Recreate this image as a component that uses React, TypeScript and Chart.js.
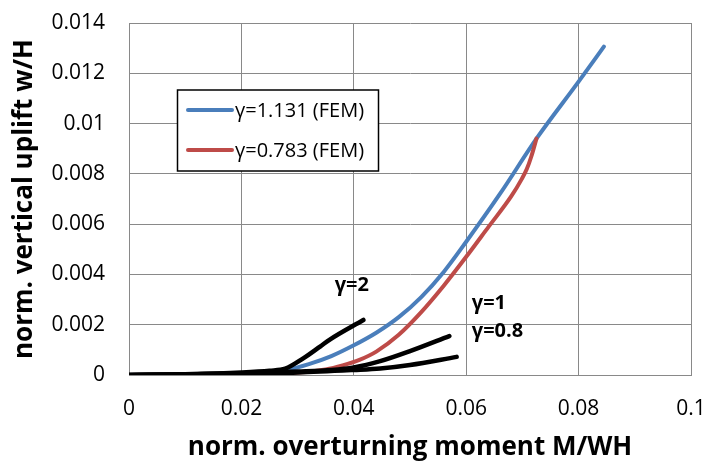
import React, { useEffect, useRef } from 'react';
import { Chart, registerables } from 'chart.js';

Chart.register(...registerables);

// ---- data ----
const xTickLabels = ['0', '0.02', '0.04', '0.06', '0.08', '0.1'];
const yTickLabels = ['0', '0.002', '0.004', '0.006', '0.008', '0.01', '0.012', '0.014'];

const blueLabel = 'γ=1.131 (FEM)';
const blueX = [0, 0.01, 0.02, 0.025, 0.028, 0.032, 0.036, 0.04, 0.044, 0.048, 0.052, 0.056, 0.06, 0.066, 0.0725, 0.08, 0.0845];
const blueY = [0, 0.00002, 0.00006, 0.00012, 0.0002, 0.00043, 0.00075, 0.00118, 0.00168, 0.0023, 0.0031, 0.0041, 0.0053, 0.0072, 0.0094, 0.01167, 0.01306];

const redLabel = 'γ=0.783 (FEM)';
const redX = [0, 0.02, 0.03, 0.035, 0.038, 0.041, 0.044, 0.048, 0.052, 0.056, 0.06, 0.064, 0.068, 0.0699, 0.0708, 0.0716, 0.0725];
const redY = [0, 0.00004, 0.0001, 0.00022, 0.00038, 0.0006, 0.00093, 0.0016, 0.0025, 0.00355, 0.0047, 0.0059, 0.0071, 0.0078, 0.0082, 0.0087, 0.0094];

const g2Label = 'γ=2';
const g2X = [0, 0.01, 0.02, 0.025, 0.0278, 0.031, 0.034, 0.0358, 0.0417];
const g2Y = [0, 0.00003, 0.0001, 0.00017, 0.00025, 0.00066, 0.00113, 0.00142, 0.00219];

const g1Label = 'γ=1';
const g1X = [0, 0.01, 0.02, 0.03, 0.036, 0.04, 0.0447, 0.05, 0.057];
const g1Y = [0, 0.00002, 0.00007, 0.00014, 0.0002, 0.0003, 0.00055, 0.00095, 0.00155];

const g08Label = 'γ=0.8';
const g08X = [0, 0.01, 0.02, 0.03, 0.04, 0.0447, 0.05, 0.0583];
const g08Y = [0, 0.00002, 0.00006, 0.0001, 0.0002, 0.00026, 0.0004, 0.00072];

// annotation anchors (data coordinates of the left/middle of each text)
const annotationTexts = [g2Label, g1Label, g08Label];
const annotationX = [0.0366, 0.061, 0.061];
const annotationY = [0.00357, 0.00287, 0.00173];

const FONT = "'Open Sans', sans-serif";
const GRID = '#898989';
const BLUE = '#4A7EBB';
const RED = '#BE4B48';

const pts = (xs: number[], ys: number[]) => xs.map((x, i) => ({ x, y: ys[i] }));

const overlayPlugin = {
  id: 'overlay',
  afterDatasetsDraw(chart: any) {
    const { ctx, scales } = chart;
    const xs = scales.x;
    const ys = scales.y;
    ctx.save();
    // gamma annotations
    ctx.fillStyle = '#000';
    ctx.font = `bold 20px ${FONT}`;
    ctx.textAlign = 'left';
    ctx.textBaseline = 'middle';
    annotationTexts.forEach((t, i) => {
      ctx.fillText(t, xs.getPixelForValue(annotationX[i]), ys.getPixelForValue(annotationY[i]));
    });

    // legend box
    const bx = 177.5, by = 90, bw = 201, bh = 81;
    ctx.fillStyle = '#fff';
    ctx.fillRect(bx, by, bw, bh);
    ctx.strokeStyle = '#000';
    ctx.lineWidth = 1.5;
    ctx.strokeRect(bx, by, bw, bh);
    const items = [
      { label: blueLabel, color: BLUE, y: 110 },
      { label: redLabel, color: RED, y: 150 },
    ];
    ctx.font = `20px ${FONT}`;
    ctx.textBaseline = 'middle';
    items.forEach((it) => {
      ctx.strokeStyle = it.color;
      ctx.lineWidth = 4;
      ctx.lineCap = 'round';
      ctx.beginPath();
      ctx.moveTo(188, it.y);
      ctx.lineTo(232, it.y);
      ctx.stroke();
      ctx.fillStyle = '#000';
      ctx.fillText(it.label, 235, it.y + 1);
    });
    ctx.restore();
  },
};

export default function App() {
  const ref = useRef<HTMLCanvasElement | null>(null);

  useEffect(() => {
    if (!ref.current) return;
    const common = {
      showLine: true,
      pointRadius: 0,
      pointHoverRadius: 0,
      cubicInterpolationMode: 'monotone',
      borderCapStyle: 'round',
      borderJoinStyle: 'round',
      fill: false,
    };
    const chart = new Chart(ref.current, {
      type: 'scatter',
      data: {
        datasets: [
          { ...common, label: g2Label, data: pts(g2X, g2Y), borderColor: '#000', backgroundColor: '#000', borderWidth: 4.5, order: 0 },
          { ...common, label: g1Label, data: pts(g1X, g1Y), borderColor: '#000', backgroundColor: '#000', borderWidth: 4.5, order: 0 },
          { ...common, label: g08Label, data: pts(g08X, g08Y), borderColor: '#000', backgroundColor: '#000', borderWidth: 4.5, order: 0 },
          { ...common, label: redLabel, data: pts(redX, redY), borderColor: RED, backgroundColor: RED, borderWidth: 4, order: 1 },
          { ...common, label: blueLabel, data: pts(blueX, blueY), borderColor: BLUE, backgroundColor: BLUE, borderWidth: 4, order: 2 },
        ] as any,
      },
      options: {
        responsive: false,
        animation: false,
        devicePixelRatio: 1,
        layout: { padding: { top: 23, right: 17, left: 0, bottom: 0 } },
        plugins: {
          legend: { display: false },
          tooltip: { enabled: false },
        },
        scales: {
          x: {
            type: 'linear',
            min: 0,
            max: 0.1,
            afterFit: (s: any) => {
              s.height = 94;
              s.paddingLeft = 0;
              s.paddingRight = 0;
            },
            ticks: {
              stepSize: 0.02,
              maxRotation: 0,
              autoSkip: false,
              padding: 21,
              color: '#000',
              font: { family: FONT, size: 21 },
              callback: (_v: any, i: number) => xTickLabels[i],
            },
            grid: { color: GRID, lineWidth: 1, drawTicks: false },
            border: { color: GRID, width: 1 },
            title: {
              display: true,
              text: 'norm. overturning moment M/WH',
              color: '#000',
              font: { family: FONT, size: 26, weight: 'bold' },
              padding: { top: 0, bottom: 6 },
            },
          },
          y: {
            type: 'linear',
            min: 0,
            max: 0.014,
            afterFit: (s: any) => {
              s.width = 129;
              s.paddingTop = 0;
              s.paddingBottom = 0;
            },
            ticks: {
              stepSize: 0.002,
              autoSkip: false,
              padding: 24,
              color: '#000',
              font: { family: FONT, size: 21 },
              callback: (_v: any, i: number) => yTickLabels[i],
            },
            grid: { color: GRID, lineWidth: 1, drawTicks: false },
            border: { color: GRID, width: 1 },
            title: {
              display: true,
              text: 'norm. vertical uplift w/H',
              color: '#000',
              font: { family: FONT, size: 26, weight: 'bold' },
              padding: { top: 9, bottom: 0 },
            },
          },
        },
      } as any,
      plugins: [overlayPlugin],
    });
    return () => chart.destroy();
  }, []);

  return (
    <div style={{ position: 'fixed', left: 0, top: 0, width: 708, height: 469, background: '#fff' }}>
      <canvas ref={ref} width={708} height={469} style={{ display: 'block' }} />
    </div>
  );
}
